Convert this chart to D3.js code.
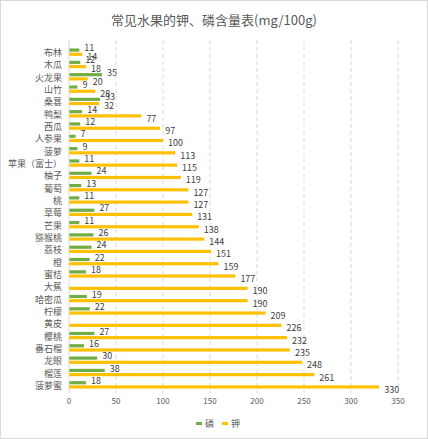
<!DOCTYPE html><html><head><meta charset="utf-8"><script src="https://d3js.org/d3.v7.min.js"></script>
<style>body{margin:0;background:#fff}svg{font-family:"Noto Sans CJK SC","Noto Sans",sans-serif}</style></head><body><svg width="428" height="439"></svg><script>
const fruits=["布林","木瓜","火龙果","山竹","桑葚","鸭梨","西瓜","人参果","菠萝","苹果（富士）","柚子","葡萄","桃","草莓","芒果","猕猴桃","荔枝","橙","蜜桔","大蕉","哈密瓜","柠檬","黄皮","樱桃","番石榴","龙眼","榴莲","菠萝蜜"];
const phos=[11,12,35,9,33,14,12,7,9,11,24,13,11,27,11,26,24,22,18,null,19,22,null,27,16,30,38,18];
const pot=[14,18,20,28,32,77,97,100,113,115,119,127,127,131,138,144,151,159,177,190,190,209,226,232,235,248,261,330];
const ticks=[0,50,100,150,200,250,300,350];
const svg=d3.select("svg");
svg.append("rect").attr("x",0.5).attr("y",0.5).attr("width",427).attr("height",438).attr("fill","#fff").attr("stroke","#d9d9d9");
svg.append("text").attr("x",214).attr("y",25).attr("text-anchor","middle").attr("font-size",13).attr("fill","#595959").text("常见水果的钾、磷含量表(mg/100g)");
const x=d3.scaleLinear().domain([0,350]).range([69,398]);
const y=d3.scaleBand().domain(fruits).range([46,391]);
const g=svg.append("g");
g.selectAll("line.grid").data(ticks.slice(1)).join("line").attr("x1",d=>x(d)).attr("x2",d=>x(d)).attr("y1",40).attr("y2",393).attr("stroke","#d9d9d9").attr("stroke-dasharray","4,3");
svg.append("line").attr("x1",x(0)).attr("x2",x(0)).attr("y1",40).attr("y2",393).attr("stroke","#d9d9d9");
const bh=3.2;
fruits.forEach((f,i)=>{
 const yc=y(f)+y.bandwidth()/2;
 if(phos[i]!=null){
  g.append("rect").attr("x",x(0)).attr("y",yc-bh-0.5).attr("width",x(phos[i])-x(0)).attr("height",bh).attr("fill","#70ad47");
  g.append("text").attr("x",x(phos[i])+5).attr("y",yc-1).attr("font-size",9).attr("fill","#404040").text(phos[i]);
 }
 g.append("rect").attr("x",x(0)).attr("y",yc+0.5).attr("width",x(pot[i])-x(0)).attr("height",bh).attr("fill","#ffc000");
 g.append("text").attr("x",x(pot[i])+5).attr("y",yc+8).attr("font-size",9).attr("fill","#404040").text(pot[i]);
 g.append("text").attr("x",62).attr("y",yc+4).attr("text-anchor","end").attr("font-size",9).attr("fill","#595959").text(f);
});
g.selectAll("text.tick").data(ticks).join("text").attr("x",d=>x(d)).attr("y",404).attr("text-anchor","middle").attr("font-size",8).attr("fill","#595959").text(d=>d);
const lg=svg.append("g").attr("font-size",9).attr("fill","#595959");
lg.append("rect").attr("x",196).attr("y",422).attr("width",6).attr("height",3).attr("fill","#70ad47");
lg.append("text").attr("x",205).attr("y",427).text("磷");
lg.append("rect").attr("x",222).attr("y",422).attr("width",6).attr("height",3).attr("fill","#ffc000");
lg.append("text").attr("x",231).attr("y",427).text("钾");
</script></body></html>
